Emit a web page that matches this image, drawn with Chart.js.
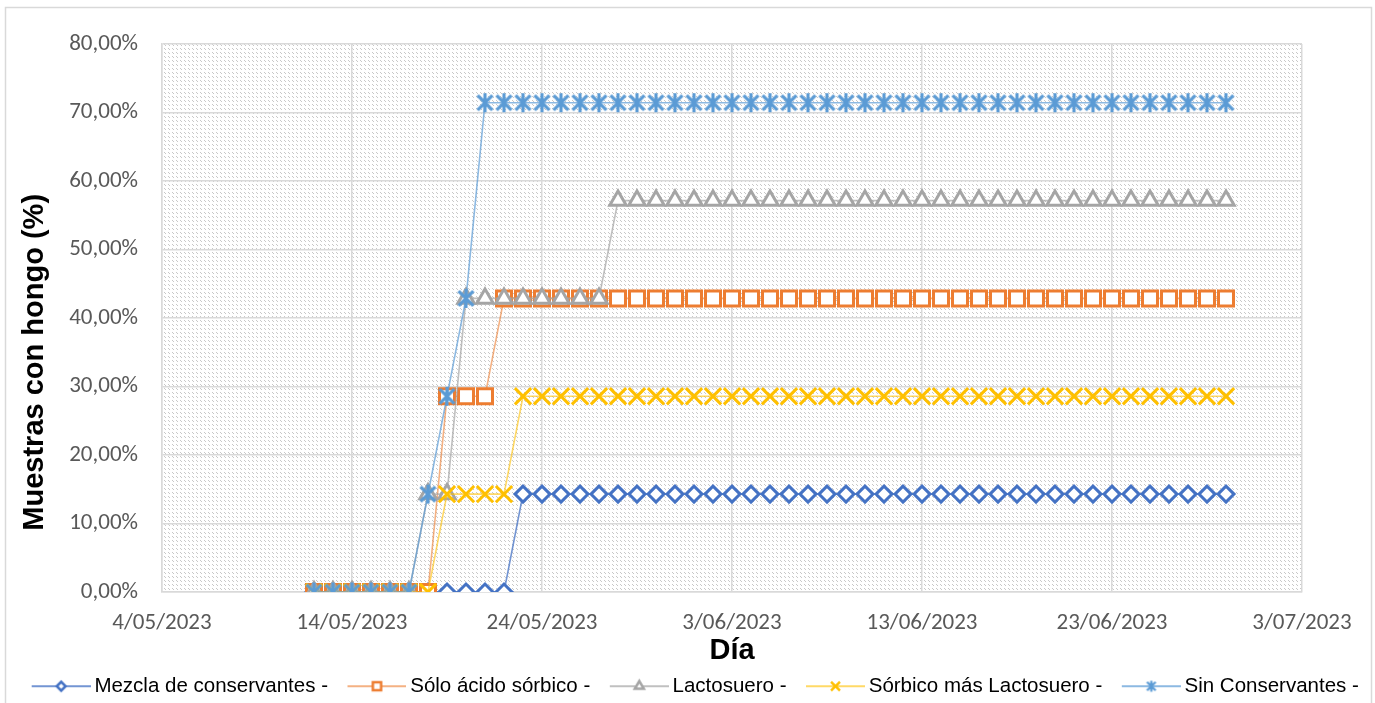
<!DOCTYPE html>
<html lang="es">
<head>
<meta charset="utf-8">
<title>Muestras con hongo</title>
<script src="https://cdn.jsdelivr.net/npm/chart.js@4.4.1/dist/chart.umd.min.js"></script>
<style>
  html, body { margin: 0; padding: 0; background: #ffffff; }
  #wrap { width: 1375px; height: 703px; }
</style>
</head>
<body>
<div id="wrap"><canvas id="grafico" width="1375" height="703"></canvas></div>
<script>
// Fechas de lectura (un registro diario)
const dias = [
  "12/05/2023","13/05/2023","14/05/2023","15/05/2023","16/05/2023","17/05/2023","18/05/2023",
  "19/05/2023","20/05/2023","21/05/2023","22/05/2023","23/05/2023","24/05/2023","25/05/2023",
  "26/05/2023","27/05/2023","28/05/2023","29/05/2023","30/05/2023","31/05/2023","1/06/2023",
  "2/06/2023","3/06/2023","4/06/2023","5/06/2023","6/06/2023","7/06/2023","8/06/2023",
  "9/06/2023","10/06/2023","11/06/2023","12/06/2023","13/06/2023","14/06/2023","15/06/2023",
  "16/06/2023","17/06/2023","18/06/2023","19/06/2023","20/06/2023","21/06/2023","22/06/2023",
  "23/06/2023","24/06/2023","25/06/2023","26/06/2023","27/06/2023","28/06/2023","29/06/2023"
];

// Porcentaje de muestras con hongo por tratamiento
const mezclaConservantes = [
  0, 0, 0, 0, 0, 0, 0, 0, 0, 0, 0,
  14.29, 14.29, 14.29, 14.29, 14.29, 14.29, 14.29, 14.29, 14.29, 14.29,
  14.29, 14.29, 14.29, 14.29, 14.29, 14.29, 14.29, 14.29, 14.29, 14.29,
  14.29, 14.29, 14.29, 14.29, 14.29, 14.29, 14.29, 14.29, 14.29, 14.29,
  14.29, 14.29, 14.29, 14.29, 14.29, 14.29, 14.29, 14.29
];
const soloAcidoSorbico = [
  0, 0, 0, 0, 0, 0, 0,
  28.57, 28.57, 28.57,
  42.86, 42.86, 42.86, 42.86, 42.86, 42.86, 42.86, 42.86, 42.86, 42.86,
  42.86, 42.86, 42.86, 42.86, 42.86, 42.86, 42.86, 42.86, 42.86, 42.86,
  42.86, 42.86, 42.86, 42.86, 42.86, 42.86, 42.86, 42.86, 42.86, 42.86,
  42.86, 42.86, 42.86, 42.86, 42.86, 42.86, 42.86, 42.86, 42.86
];
const lactosuero = [
  0, 0, 0, 0, 0, 0,
  14.29, 14.29,
  42.86, 42.86, 42.86, 42.86, 42.86, 42.86, 42.86, 42.86,
  57.14, 57.14, 57.14, 57.14, 57.14, 57.14, 57.14, 57.14, 57.14, 57.14,
  57.14, 57.14, 57.14, 57.14, 57.14, 57.14, 57.14, 57.14, 57.14, 57.14,
  57.14, 57.14, 57.14, 57.14, 57.14, 57.14, 57.14, 57.14, 57.14, 57.14,
  57.14, 57.14, 57.14
];
const sorbicoMasLactosuero = [
  0, 0, 0, 0, 0, 0, 0,
  14.29, 14.29, 14.29, 14.29,
  28.57, 28.57, 28.57, 28.57, 28.57, 28.57, 28.57, 28.57, 28.57, 28.57,
  28.57, 28.57, 28.57, 28.57, 28.57, 28.57, 28.57, 28.57, 28.57, 28.57,
  28.57, 28.57, 28.57, 28.57, 28.57, 28.57, 28.57, 28.57, 28.57, 28.57,
  28.57, 28.57, 28.57, 28.57, 28.57, 28.57, 28.57, 28.57
];
const sinConservantes = [
  0, 0, 0, 0, 0, 0,
  14.29, 28.57, 42.86,
  71.43, 71.43, 71.43, 71.43, 71.43, 71.43, 71.43, 71.43, 71.43, 71.43,
  71.43, 71.43, 71.43, 71.43, 71.43, 71.43, 71.43, 71.43, 71.43, 71.43,
  71.43, 71.43, 71.43, 71.43, 71.43, 71.43, 71.43, 71.43, 71.43, 71.43,
  71.43, 71.43, 71.43, 71.43, 71.43, 71.43, 71.43, 71.43, 71.43, 71.43
];

// Etiquetas de los ejes
const xTickLabels = ["4/05/2023", "14/05/2023", "24/05/2023", "3/06/2023", "13/06/2023", "23/06/2023", "3/07/2023"];
const yTicks = [0, 10, 20, 30, 40, 50, 60, 70, 80];

// dd/mm/aaaa -> número de día
function aDia(s) {
  const [d, m, a] = s.split("/").map(Number);
  return Date.UTC(a, m - 1, d) / 864e5;
}
function puntos(valores) {
  return valores.map((v, i) => ({ x: aDia(dias[i]), y: v }));
}

// Marcador asterisco (aspa con trazo vertical)
function asterisco(r, lw, color) {
  const c = document.createElement("canvas");
  const s = Math.ceil(2 * r + lw + 2);
  c.width = s; c.height = s;
  const g = c.getContext("2d");
  const m = s / 2, k = r * 0.78;
  g.strokeStyle = color; g.lineWidth = lw; g.lineCap = "butt";
  g.beginPath();
  g.moveTo(m - k, m - k); g.lineTo(m + k, m + k);
  g.moveTo(m + k, m - k); g.lineTo(m - k, m + k);
  g.moveTo(m, m - r); g.lineTo(m, m + r);
  g.stroke();
  return c;
}

const series = [
  { label: "Mezcla de conservantes -", data: mezclaConservantes, color: "#4472C4", line: "rgba(68,114,196,0.75)", estilo: "rectRot", radio: 8 },
  { label: "Sólo ácido sórbico -", data: soloAcidoSorbico, color: "#ED7D31", line: "rgba(237,125,49,0.6)", estilo: "rect", radio: 10.6 },
  { label: "Lactosuero -", data: lactosuero, color: "#A5A5A5", line: "rgba(165,165,165,0.7)", estilo: "triangle", radio: 9.5 },
  { label: "Sórbico más Lactosuero -", data: sorbicoMasLactosuero, color: "#FFC000", line: "rgba(255,192,0,0.6)", estilo: "crossRot", radio: 11.5 },
  { label: "Sin Conservantes -", data: sinConservantes, color: "#5B9BD5", line: "rgba(91,155,213,0.7)", estilo: asterisco(9.5, 3.2, "#5B9BD5"), radio: 10 }
];

// Iconos de la leyenda: línea con marcador al centro
const CAJA_W = 68, ICONO_W = 81, ICONO_H = 24, LINEA_INI = 22;
function iconoLeyenda(s) {
  const c = document.createElement("canvas");
  c.width = ICONO_W; c.height = ICONO_H;
  const g = c.getContext("2d");
  const cy = ICONO_H / 2, cx = LINEA_INI + (ICONO_W - LINEA_INI) / 2;
  g.strokeStyle = s.line; g.lineWidth = 2;
  g.beginPath(); g.moveTo(LINEA_INI, cy); g.lineTo(ICONO_W, cy); g.stroke();
  g.strokeStyle = s.color; g.fillStyle = "#ffffff"; g.lineWidth = 2.5;
  if (typeof s.estilo === "string") {
    Chart.helpers.drawPoint(g, { pointStyle: s.estilo, radius: s.radio * 0.55, borderWidth: 2.5, rotation: 0 }, cx, cy);
  } else {
    const a = asterisco(5.5, 2.2, s.color);
    g.drawImage(a, cx - a.width / 2, cy - a.height / 2);
  }
  return c;
}

// Trama diagonal discontinua del área de trazado
function trama() {
  const t = document.createElement("canvas");
  t.width = 8; t.height = 8;
  const g = t.getContext("2d");
  g.fillStyle = "#ffffff"; g.fillRect(0, 0, 8, 8);
  g.fillStyle = "#c8c8c8";
  for (let i = 0; i < 8; i++) {
    if (i % 4 >= 2) continue;
    g.fillRect(i, i, 1, 1);
    g.fillRect(i, (i + 4) % 8, 1, 1);
  }
  return t;
}

const fondo = {
  id: "fondo",
  beforeDraw(chart) {
    const { ctx, chartArea: a, width, height } = chart;
    ctx.save();
    ctx.fillStyle = "#ffffff";
    ctx.fillRect(0, 0, width, height);
    ctx.strokeStyle = "#d9d9d9"; ctx.lineWidth = 1.5;
    ctx.strokeRect(5.5, 7.5, width - 9, height + 10);
    ctx.fillStyle = ctx.createPattern(trama(), "repeat");
    ctx.fillRect(a.left, a.top, a.right - a.left, a.bottom - a.top);
    ctx.restore();
  }
};

const iconos = series.map(iconoLeyenda);
const fuenteTicks = "Carlito, Lato, 'Liberation Sans', sans-serif";
const fuenteTexto = "'Liberation Sans', Arial, sans-serif";

new Chart(document.getElementById("grafico"), {
  type: "line",
  data: {
    datasets: series.map((s, i) => ({
      label: s.label,
      data: puntos(s.data),
      borderColor: s.line,
      borderWidth: 1.6,
      pointStyle: s.estilo,
      pointRadius: s.radio,
      pointHoverRadius: s.radio,
      pointBorderColor: s.color,
      pointBackgroundColor: "#ffffff",
      pointBorderWidth: 3,
      tension: 0,
      fill: false,
      order: series.length - i
    }))
  },
  options: {
    responsive: false,
    animation: false,
    devicePixelRatio: 1,
    layout: { padding: { left: 0, right: 0, top: 44, bottom: 0 } },
    scales: {
      x: {
        type: "linear",
        min: aDia(xTickLabels[0]),
        max: aDia(xTickLabels[xTickLabels.length - 1]),
        afterBuildTicks: (sc) => { sc.ticks = xTickLabels.map(t => ({ value: aDia(t) })); },
        afterFit: (sc) => { sc.height = 80; },
        grid: { color: "#d9d9d9", lineWidth: 1.5, drawTicks: false },
        border: { color: "#d9d9d9", width: 1.5 },
        ticks: {
          padding: 17,
          maxRotation: 0,
          autoSkip: false,
          color: "#595959",
          font: { family: fuenteTicks, size: 23 },
          callback: (v, i) => xTickLabels[i]
        },
        title: {
          display: true,
          text: "Día",
          color: "#000000",
          font: { family: fuenteTexto, size: 29, weight: "bold" },
          padding: { top: 0, bottom: 4 }
        }
      },
      y: {
        min: 0,
        max: 80,
        afterBuildTicks: (sc) => { sc.ticks = yTicks.map(v => ({ value: v })); },
        afterFit: (sc) => { sc.width = 162; },
        grid: { color: "#d9d9d9", lineWidth: 1.5, drawTicks: false },
        border: { color: "#d9d9d9", width: 1.5 },
        ticks: {
          padding: 24,
          color: "#595959",
          font: { family: fuenteTicks, size: 23 },
          callback: (v) => v.toFixed(2).replace(".", ",") + "%"
        },
        title: {
          display: true,
          text: "Muestras con hongo (%)" + "\u00a0".repeat(11),
          color: "#000000",
          font: { family: fuenteTexto, size: 29, weight: "bold" },
          padding: { top: 18, bottom: 0 }
        }
      },
      // margen derecho del área de trazado
      margenDerecho: {
        position: "right",
        display: true,
        afterFit: (sc) => { sc.width = 73; },
        grid: { display: false },
        border: { display: false },
        ticks: { display: false }
      }
    },
    plugins: {
      legend: {
        position: "bottom",
        maxHeight: 31,
        labels: {
          usePointStyle: true,
          pointStyleWidth: CAJA_W,
          padding: 4,
          color: "#000000",
          font: { family: fuenteTexto, size: 20.5 },
          generateLabels: (chart) => chart.data.datasets.map((ds, i) => ({
            text: ds.label,
            pointStyle: iconos[i],
            datasetIndex: i,
            hidden: false,
            fillStyle: "rgba(0,0,0,0)",
            strokeStyle: "rgba(0,0,0,0)",
            lineWidth: 0,
            fontColor: "#000000"
          }))
        }
      },
      tooltip: { enabled: false }
    }
  },
  plugins: [fondo]
});
</script>
</body>
</html>
